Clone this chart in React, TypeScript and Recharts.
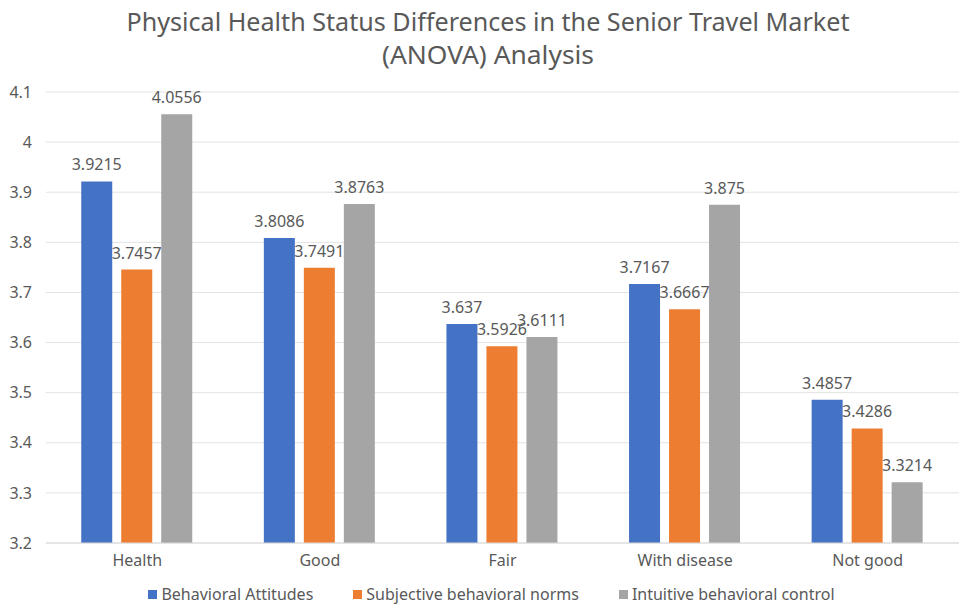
import React from "react";
import { BarChart, Bar, XAxis, YAxis, CartesianGrid, Legend, LabelList } from "recharts";

const categories = ["Health", "Good", "Fair", "With disease", "Not good"];
const behavioralAttitudes = [3.9215, 3.8086, 3.637, 3.7167, 3.4857];
const subjectiveNorms = [3.7457, 3.7491, 3.5926, 3.6667, 3.4286];
const intuitiveControl = [4.0556, 3.8763, 3.6111, 3.875, 3.3214];
const yTicks = [3.2, 3.3, 3.4, 3.5, 3.6, 3.7, 3.8, 3.9, 4, 4.1];

const seriesNames = ["Behavioral Attitudes", "Subjective behavioral norms", "Intuitive behavioral control"];
const colors = ["#4472C4", "#ED7D31", "#A5A5A5"];

const data = categories.map((c, i) => ({
  name: c,
  a: behavioralAttitudes[i],
  b: subjectiveNorms[i],
  c: intuitiveControl[i],
}));

const FONT = "'Noto Sans', 'Open Sans', sans-serif";
const TEXT = "#595959";

const LegendContent = () => (
  <div
    style={{
      display: "flex",
      justifyContent: "center",
      alignItems: "center",
      fontFamily: FONT,
      fontSize: 16,
      color: TEXT,
      paddingLeft: 24,
      height: 22,
    }}
  >
    {seriesNames.map((n, i) => (
      <div key={n} style={{ display: "flex", alignItems: "center", marginRight: i < 2 ? 40 : 0 }}>
        <span style={{ width: 9, height: 9, background: colors[i], display: "inline-block", marginRight: 4 }} />
        <span>{n}</span>
      </div>
    ))}
  </div>
);

export default function App() {
  const keys = ["a", "b", "c"];
  return (
    <div style={{ position: "absolute", left: 0, top: 0, width: 959, height: 605, background: "#fff" }}>
      <svg width={959} height={80} style={{ position: "absolute", left: 0, top: 0 }}>
        <text
          x={488}
          y={31}
          textAnchor="middle"
          fill={TEXT}
          fontFamily={FONT}
          fontSize={25}
          textLength={723}
          lengthAdjust="spacingAndGlyphs"
        >
          Physical Health Status Differences in the Senior Travel Market
        </text>
        <text
          x={488}
          y={64}
          textAnchor="middle"
          fill={TEXT}
          fontFamily={FONT}
          fontSize={25}
          textLength={212}
          lengthAdjust="spacingAndGlyphs"
        >
          (ANOVA) Analysis
        </text>
      </svg>
      <BarChart
        width={959}
        height={605}
        data={data}
        margin={{ top: 92, right: 0, left: 0, bottom: 0 }}
        barGap={9}
        barCategoryGap="19.3%"
      >
        <CartesianGrid vertical={false} stroke="#e3e3e3" />
        <XAxis
          dataKey="name"
          axisLine={{ stroke: "#d9d9d9" }}
          tickLine={false}
          tickSize={0}
          tickMargin={12}
          height={40}
          tick={{ fill: TEXT, fontSize: 16, fontFamily: FONT }}
        />
        <YAxis
          domain={[3.2, 4.1]}
          ticks={yTicks}
          width={46}
          axisLine={false}
          tickLine={false}
          tickSize={0}
          tickMargin={14}
          allowDataOverflow
          tick={{ fill: TEXT, fontSize: 16, fontFamily: FONT }}
        />
        <Legend verticalAlign="bottom" height={22} content={<LegendContent />} />
        {keys.map((k, i) => (
          <Bar key={k} dataKey={k} name={seriesNames[i]} fill={colors[i]} isAnimationActive={false}>
            <LabelList
              dataKey={k}
              position="top"
              offset={11}
              fill={TEXT}
              fontSize={16}
              fontFamily={FONT}
            />
          </Bar>
        ))}
      </BarChart>
    </div>
  );
}
